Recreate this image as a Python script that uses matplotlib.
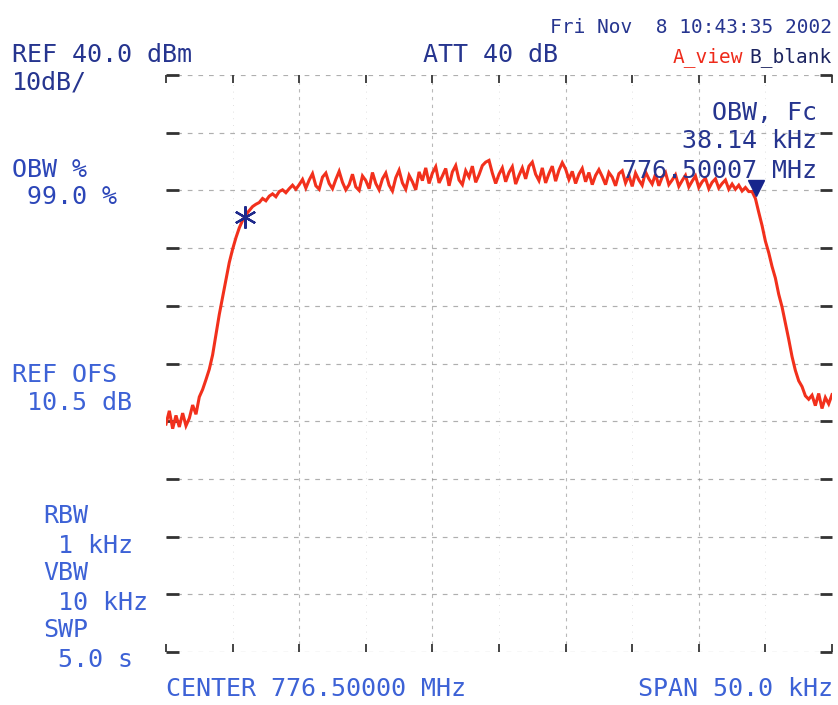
import numpy as np
import matplotlib
matplotlib.use("Agg")
import matplotlib.pyplot as plt

ref_level_dbm = 40.0
db_per_div = 10.0
center_mhz = 776.50000
span_khz = 50.0

# trace amplitude in dBm, sweep from -25 kHz to +25 kHz (201 points)
trace_left = [-20.5, -18.2, -21.3, -19.0, -21.0, -18.6, -20.8, -19.5, -17.2, -18.8,
              -15.8, -14.5, -12.8, -11.0, -8.5, -5.0, -1.5, 1.5, 4.5, 7.5,
              9.8, 11.8, 13.5, 14.8, 15.8, 16.5, 17.2, 17.6, 17.9, 18.6,
              18.2, 19.0, 19.4, 18.9, 19.8, 20.1, 19.6, 20.3, 20.9, 20.2, 21.0]
trace_plateau_a = [21.9, 20.4, 21.8, 22.9, 20.8, 20.2, 22.3, 23.0, 21.2, 20.3,
                   21.9, 23.3, 21.4, 20.1, 21.0, 22.8, 20.6, 20.0, 22.5, 21.7,
                   20.3, 23.1, 21.2, 20.1, 22.0, 23.0, 20.9, 19.9, 22.2, 23.5,
                   21.3, 20.2, 22.6, 21.5, 20.1, 23.2]
trace_plateau_b = [21.7, 23.9, 21.2, 23.0, 24.1, 21.3, 22.5, 23.8, 20.8, 23.2,
                   24.3, 21.8, 21.0, 23.4, 22.3, 24.2, 21.4, 22.7, 24.3, 24.9,
                   25.2, 23.0, 21.2, 22.8, 23.9, 21.5, 23.1, 24.1, 21.1, 22.6,
                   23.9, 22.0, 24.2, 24.9, 22.8, 21.7, 23.9, 21.3, 22.9, 24.2,
                   21.6, 23.5, 24.8, 23.7, 21.9, 23.3, 21.2, 22.8, 23.8, 21.5,
                   23.1, 21.0, 22.6, 23.6]
trace_plateau_c = [22.4, 21.0, 23.1, 22.3, 20.8, 22.9, 23.4, 21.3, 22.6, 20.7,
                   23.0, 21.8, 20.9, 23.2, 22.0, 21.1, 22.8, 20.8, 22.3, 23.1,
                   21.0, 21.8, 22.7, 20.7, 21.7, 22.6, 20.6, 21.6, 22.5, 20.5,
                   21.5, 22.1, 20.3, 21.4, 22.0, 20.4, 21.2, 21.8, 20.2, 21.1,
                   20.2, 20.9, 19.9, 20.5, 19.8]
trace_right = [19.8, 18.6, 16.2, 13.9, 11.2, 9.2, 6.8, 4.8, 2.0, -0.2,
               -3.0, -5.8, -8.8, -11.2, -13.0, -14.0, -15.6, -16.2, -15.5, -17.3,
               -15.2, -17.8, -15.9, -17.0, -15.4]
trace_dbm = trace_left + trace_plateau_a + trace_plateau_b + trace_plateau_c + trace_right

# OBW markers (offset kHz, dBm)
obw_left_marker = (-19.07, 15.4)
obw_right_marker = (19.3, 20.4)

# annotation texts
date_text = "Fri Nov  8 10:43:35 2002"
ref_text = "REF 40.0 dBm"
scale_text = "10dB/"
att_text = "ATT 40 dB"
obw_label = ["OBW %", " 99.0 %"]
ofs_label = ["REF OFS", " 10.5 dB"]
bw_label = ["RBW", " 1 kHz", "VBW", " 10 kHz", "SWP", " 5.0 s"]
obw_result = ["OBW, Fc", "38.14 kHz", "776.50007 MHz"]
center_text = "CENTER 776.50000 MHz"
span_text = "SPAN 50.0 kHz"

# ---- figure ----
W, H = 838, 705
fig = plt.figure(figsize=(W / 100, H / 100), dpi=100)
fig.patch.set_facecolor("white")

def fx(px):
    return px / W

def fy(py):
    return 1 - py / H

ax = fig.add_axes([fx(166), fy(652), fx(832) - fx(166), fy(75) - fy(652)])
ax.set_facecolor("white")

n = len(trace_dbm)
freq_khz = np.linspace(-span_khz / 2, span_khz / 2, n)
bottom = ref_level_dbm - 10 * db_per_div
ax.set_xlim(-span_khz / 2, span_khz / 2)
ax.set_ylim(bottom, ref_level_dbm)

xt = np.linspace(-span_khz / 2, span_khz / 2, 11)
yt = np.linspace(bottom, ref_level_dbm, 11)

# graticule
for y in yt:
    ax.axhline(y, color="#7a7a7a", lw=0.85, dashes=(4, 5), alpha=0.6, zorder=1)
for i, x in enumerate(xt[1:-1], start=1):
    if i % 2 == 0:
        ax.axvline(x, color="#8a8a8a", lw=0.8, dashes=(3, 4), alpha=0.6, zorder=1)
    else:
        ax.axvline(x, color="#b5b5b5", lw=0.6, dashes=(1, 7), alpha=0.55, zorder=1)
ax.axvline(xt[-1], color="#9a9a9a", lw=0.6, dashes=(1, 6), alpha=0.6, zorder=1)

ax.set_xticks(xt)
ax.set_yticks(yt)
ax.tick_params(axis="y", which="both", left=True, right=True, direction="in",
               length=9, width=2.0, color="#333333", labelleft=False, labelright=False)
ax.tick_params(axis="x", which="both", top=True, bottom=True, direction="in",
               length=6, width=1.4, color="#444444", labelbottom=False, labeltop=False)
for s in ax.spines.values():
    s.set_visible(False)

# trace
ax.plot(freq_khz, trace_dbm, color="#f2301c", lw=2.2, zorder=3, solid_joinstyle="miter")

# markers
ax.plot(*obw_left_marker, marker=(6, 2, 0), ms=16, mew=1.6, color="#1f2a8c", zorder=4)
ax.plot(*obw_right_marker, marker="v", ms=12, color="#17258c", zorder=4)

# ---- texts ----
mono = "DejaVu Sans Mono"
dark = "#26358f"
mid = "#2c46b8"
light = "#3d62d6"
big = 18
small = 14

fig.text(fx(832), fy(33), date_text, family=mono, size=small, color=dark,
         ha="right", va="baseline")
fig.text(fx(12), fy(62), ref_text, family=mono, size=big, color=dark, va="baseline")
fig.text(fx(12), fy(90), scale_text, family=mono, size=big, color=dark, va="baseline")
fig.text(fx(423), fy(62), att_text, family=mono, size=big, color=dark, va="baseline")
fig.text(fx(832), fy(62), "B_blank", family=mono, size=small, color="#1c2460",
         ha="right", va="baseline")
fig.text(fx(743), fy(62), "A_view", family=mono, size=small,
         color="#ee2a1a", ha="right", va="baseline")

for txt, b in zip(obw_label, [177, 204]):
    fig.text(fx(12), fy(b), txt, family=mono, size=big, color=mid, va="baseline")
for txt, b in zip(ofs_label, [382, 410]):
    fig.text(fx(12), fy(b), txt, family=mono, size=big, color=light, va="baseline")
for txt, b in zip(bw_label, [523, 553, 580, 610, 637, 667]):
    fig.text(fx(43), fy(b), txt, family=mono, size=big, color=light, va="baseline")
for txt, b in zip(obw_result, [120, 148, 178]):
    fig.text(fx(817), fy(b), txt, family=mono, size=big, color=dark,
             ha="right", va="baseline", zorder=5)

fig.text(fx(166), fy(696), center_text, family=mono, size=big, color=light, va="baseline")
fig.text(fx(833), fy(696), span_text, family=mono, size=big, color=light,
         ha="right", va="baseline")

fig.savefig("out.png", dpi=100, facecolor="white")
